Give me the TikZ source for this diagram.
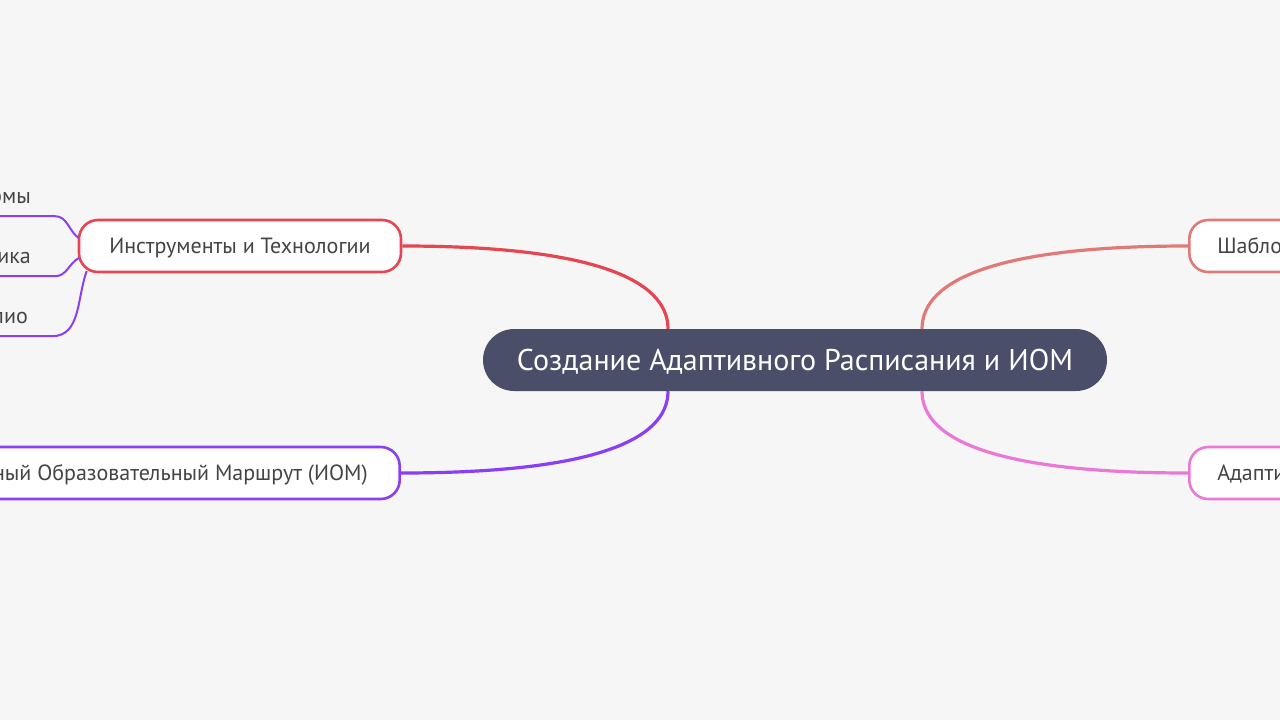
\documentclass[tikz,border=0pt]{standalone}
\usepackage{fontspec}
\setmainfont{PT Sans}
\usetikzlibrary{positioning,calc}

\definecolor{bgcol}{HTML}{F6F6F6}
\definecolor{rootcol}{HTML}{4A4E69}
\definecolor{textcol}{HTML}{444444}
\definecolor{redcol}{HTML}{E64552}
\definecolor{purplecol}{HTML}{8A3FF5}
\definecolor{salmoncol}{HTML}{E07A77}
\definecolor{pinkcol}{HTML}{EC78D6}

\tikzset{
  rootnode/.style={rectangle, fill=rootcol, text=white, rounded corners=31pt, minimum height=62pt, minimum width=624pt, text height=20pt, text depth=0pt, font=\fontsize{30}{34}\selectfont},
  branch/.style={rectangle, draw, line width=2.6pt, fill=white, text=textcol, rounded corners=19pt, minimum height=52pt, inner xsep=28pt, text height=15pt, text depth=0pt, font=\fontsize{22}{26}\selectfont},
  leaf/.style={rectangle, text=textcol, minimum height=40pt, inner xsep=24pt, text height=15pt, text depth=0pt, font=\fontsize{22}{26}\selectfont},
  mainline/.style={line width=3.2pt},
  leafline/.style={line width=2pt, purplecol},
}

\begin{document}
\begin{tikzpicture}[x=1pt,y=-1pt]
\fill[bgcol] (0,0) rectangle (1280,720);
\useasboundingbox (0,0) rectangle (1280,720);

\node (root) [rootnode] at (795,360) {Создание Адаптивного Расписания и ИОМ};

\node (tools) [branch, draw=redcol, minimum width=322pt] at (240,246) {Инструменты и Технологии};
\node (iom) [branch, draw=purplecol, anchor=east, inner xsep=32pt] at (401,473) {Индивидуальный Образовательный Маршрут (ИОМ)};
\node (templ) [branch, draw=salmoncol, anchor=west] at (1188,246) {Шаблоны Расписаний};
\node (adapt) [branch, draw=pinkcol, anchor=west] at (1188,473) {Адаптивное Расписание};

\node (platf) [leaf, anchor=east] at (55,196) {Платформы};
\node (analyt) [leaf, anchor=east] at (55,256) {Аналитика};
\node (portf) [leaf, anchor=east] at (52,316) {Портфолио};

% main branches
\draw[mainline, redcol] (tools.east) .. controls (590,246) and ($(root.north)+(-127,-50)$) .. ($(root.north)+(-127,0)$);
\draw[mainline, purplecol] (iom.east) .. controls (590,473) and ($(root.south)+(-127,50)$) .. ($(root.south)+(-127,0)$);
\draw[mainline, salmoncol] (templ.west) .. controls (1000,246) and ($(root.north)+(127,-50)$) .. ($(root.north)+(127,0)$);
\draw[mainline, pinkcol] (adapt.west) .. controls (1000,473) and ($(root.south)+(127,50)$) .. ($(root.south)+(127,0)$);

% leaves
\draw[leafline] (platf.south west) -- (platf.south east) to[out=0, in=145] ($(tools.west)+(1,-8)$);
\draw[leafline] (analyt.south west) -- (analyt.south east) to[out=0, in=-150] ($(tools.west)+(1,12)$);
\draw[leafline] (portf.south west) -- (portf.south east) to[out=0, in=-110] ($(tools.west)+(9,25)$);
\end{tikzpicture}
\end{document}
